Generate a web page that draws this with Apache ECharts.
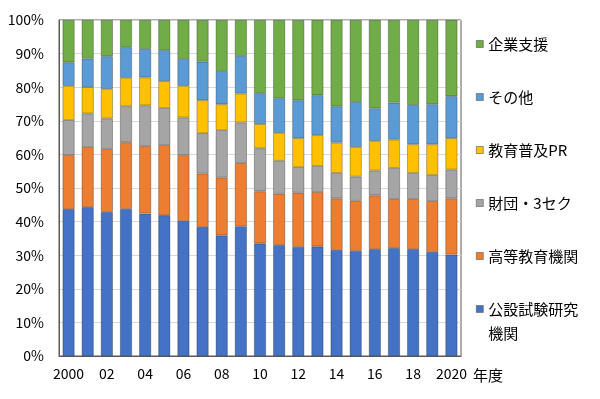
<!DOCTYPE html>
<html>
<head>
<meta charset="utf-8">
<script src="https://cdn.jsdelivr.net/npm/echarts@6/dist/echarts.min.js"></script>
<style>
  html, body { margin: 0; padding: 0; background: #fff; }
  #chart { width: 600px; height: 399px; }
</style>
</head>
<body>
<div id="chart"></div>
<script>
// 年度
var years = ['2000', '01', '02', '03', '04', '05', '06', '07', '08', '09', '10',
             '11', '12', '13', '14', '15', '16', '17', '18', '19', '2020'];

// 構成比 (%)
var kousetsu = [43.7, 44.3, 42.9, 43.8, 42.4, 41.9, 40.2, 38.4, 35.9, 38.6, 33.5,
                33.0, 32.5, 32.6, 31.6, 31.3, 31.8, 32.1, 31.8, 31.0, 30.2];
var koutou   = [16.1, 17.9, 18.7, 19.8, 20.1, 20.9, 19.6, 15.9, 17.2, 18.8, 15.5,
                15.3, 16.1, 16.2, 15.3, 14.9, 16.0, 14.6, 14.9, 15.1, 16.7];
var zaidan   = [10.4, 10.0, 9.1, 10.7, 12.1, 11.0, 11.2, 12.0, 14.1, 12.1, 12.8,
                9.8, 7.6, 7.8, 7.6, 7.2, 7.4, 9.3, 7.8, 7.8, 8.6];
var kyouiku  = [10.2, 7.8, 8.8, 8.5, 8.3, 8.0, 9.4, 9.8, 7.7, 8.6, 7.2,
                8.3, 8.6, 9.1, 9.0, 8.8, 8.8, 8.4, 8.5, 9.1, 9.3];
var sonota   = [7.0, 8.5, 9.7, 9.1, 8.5, 9.2, 8.0, 11.5, 9.9, 11.2, 9.2,
                10.3, 11.3, 11.9, 10.8, 13.4, 9.7, 11.0, 11.7, 11.9, 12.5];
var kigyou   = [12.6, 11.5, 10.8, 8.1, 8.6, 9.0, 11.6, 12.4, 15.2, 10.7, 21.8,
                23.3, 23.9, 22.4, 25.7, 24.4, 26.3, 24.6, 25.3, 25.1, 22.7];

var yTicks = [0, 10, 20, 30, 40, 50, 60, 70, 80, 90, 100];

var font = '"Noto Sans CJK JP", "Liberation Sans", sans-serif';

function bar(name, data, color) {
    return {
        name: name,
        type: 'bar',
        stack: 'total',
        barWidth: 12,
        data: data,
        itemStyle: {
            color: color,
            borderColor: 'rgba(0,0,0,0.4)',
            borderWidth: 0.7
        }
    };
}

// 凡例（最後の項目だけ2行なので別にする）
function legend(top, names, lineHeight) {
    return {
        orient: 'vertical',
        left: 476,
        top: top,
        padding: 0,
        itemWidth: 7,
        itemHeight: 7,
        itemGap: 33,
        icon: 'rect',
        itemStyle: { borderColor: '#595959', borderWidth: 0.6 },
        textStyle: { fontFamily: font, fontSize: 15, color: '#000', lineHeight: lineHeight },
        data: names,
        formatter: function (name) {
            if (name === '公設試験研究機関') return ' \n公設試験研究\n機関';
            return name;
        }
    };
}

var myChart = echarts.init(document.getElementById('chart'));
var option = {
    animation: false,
    textStyle: { fontFamily: font },
    grid: {
        left: 59, right: 139, top: 20, bottom: 43,
        show: true,
        borderColor: '#595959',
        borderWidth: 1
    },
    legend: [
        legend(34, ['企業支援', 'その他', '教育普及PR', '財団・3セク', '高等教育機関'], 20),
        legend(273, ['公設試験研究機関'], 24)
    ],
    xAxis: {
        type: 'category',
        data: years,
        name: '年度',
        nameLocation: 'end',
        nameGap: 12,
        nameTextStyle: { fontSize: 15, color: '#000', fontFamily: font, verticalAlign: 'top', padding: [12, 0, 0, 0] },
        axisLine: { lineStyle: { color: '#595959' } },
        axisTick: { show: false },
        axisLabel: {
            interval: 1,
            fontSize: 14,
            color: '#000',
            margin: 11,
            fontFamily: font
        }
    },
    yAxis: {
        type: 'value',
        min: yTicks[0],
        max: yTicks[yTicks.length - 1],
        interval: 10,
        axisLine: { show: true, lineStyle: { color: '#595959' } },
        axisTick: { show: false },
        splitLine: { lineStyle: { color: '#d9d9d9' } },
        axisLabel: {
            formatter: '{value}%',
            fontSize: 14,
            color: '#000',
            margin: 15,
            fontFamily: font
        }
    },
    series: [
        bar('公設試験研究機関', kousetsu, '#4472C4'),
        bar('高等教育機関', koutou, '#ED7D31'),
        bar('財団・3セク', zaidan, '#A5A5A5'),
        bar('教育普及PR', kyouiku, '#FFC000'),
        bar('その他', sonota, '#5B9BD5'),
        bar('企業支援', kigyou, '#70AD47')
    ]
};
myChart.setOption(option);
</script>
</body>
</html>
